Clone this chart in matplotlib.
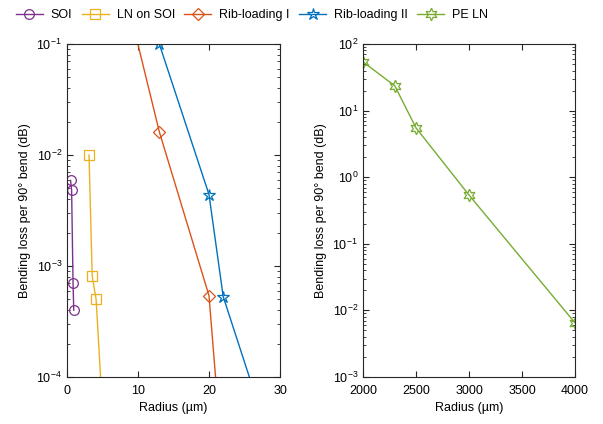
import matplotlib
matplotlib.use("Agg")
import matplotlib.pyplot as plt

plt.rcParams["font.family"] = ["Liberation Sans", "DejaVu Sans"]
plt.rcParams["font.size"] = 9

# bending loss vs radius, small-radius platforms (um, dB per 90 deg bend)
soi_r = [0.5, 0.65, 0.85, 0.95]
soi_loss = [5.9e-3, 4.8e-3, 7.1e-4, 4.0e-4]

ln_soi_r = [3.1, 3.55, 4.1, 5.0]
ln_soi_loss = [1.0e-2, 8.1e-4, 5.0e-4, 5.0e-5]

rib1_r = [8, 13, 20, 22]
rib1_loss = [0.33, 1.62e-2, 5.4e-4, 1.4e-5]

rib2_r = [13, 20, 22, 28]
rib2_loss = [1.0e-1, 4.4e-3, 5.3e-4, 3.5e-5]

# proton-exchanged LN, large radii
pe_r = [2000, 2300, 2500, 3000, 4000]
pe_loss = [54, 23.5, 5.5, 0.54, 0.0065]

C_PURPLE = "#7E2F8E"
C_YELLOW = "#EDB120"
C_ORANGE = "#D95319"
C_BLUE = "#0072BD"
C_GREEN = "#77AC30"

fig = plt.figure(figsize=(6.03, 4.24), dpi=100)
ax1 = fig.add_axes([67 / 603, 1 - 377 / 424, 213 / 603, 333 / 424])
ax2 = fig.add_axes([363 / 603, 1 - 377 / 424, 212 / 603, 333 / 424])

mk = dict(markerfacecolor="none", markersize=7, linewidth=1.0, markeredgewidth=0.9)

h1, = ax1.plot(soi_r, soi_loss, marker="o", color=C_PURPLE, label="SOI", **mk)
h2, = ax1.plot(ln_soi_r, ln_soi_loss, marker="s", color=C_YELLOW, label="LN on SOI", **mk)
h3, = ax1.plot(rib1_r, rib1_loss, marker="D", color=C_ORANGE, label="Rib-loading I",
               **{**mk, "markersize": 6})
h4, = ax1.plot(rib2_r, rib2_loss, marker="*", color=C_BLUE, label="Rib-loading II",
               **{**mk, "markersize": 9})
h5, = ax2.plot(pe_r, pe_loss, marker=(6, 1, 0), color=C_GREEN, label="PE LN",
               **{**mk, "markersize": 9})

ax1.set_yscale("log")
ax1.set_xlim(0, 30)
ax1.set_ylim(1e-4, 1e-1)
ax1.set_xticks([0, 10, 20, 30])

ax2.set_yscale("log")
ax2.set_xlim(2000, 4000)
ax2.set_ylim(1e-3, 1e2)
ax2.set_xticks([2000, 2500, 3000, 3500, 4000])

for ax in (ax1, ax2):
    ax.set_xlabel("Radius (µm)", labelpad=3)
    ax.set_ylabel("Bending loss per 90° bend (dB)")
    ax.tick_params(which="both", direction="in", top=True, right=True,
                   labelsize=9, color="#262626")
    ax.tick_params(axis="x", pad=6)
    ax.tick_params(which="major", length=4)
    ax.tick_params(which="minor", length=2)
    for s in ax.spines.values():
        s.set_color("#262626")
        s.set_linewidth(0.8)

fig.legend(handles=[h1, h2, h3, h4, h5], loc="center", ncol=5,
           bbox_to_anchor=(252 / 603, 1 - 15 / 424), frameon=False,
           handlelength=2.15, columnspacing=0.75, handletextpad=0.65, fontsize=9)

fig.savefig("out.png", dpi=100)
